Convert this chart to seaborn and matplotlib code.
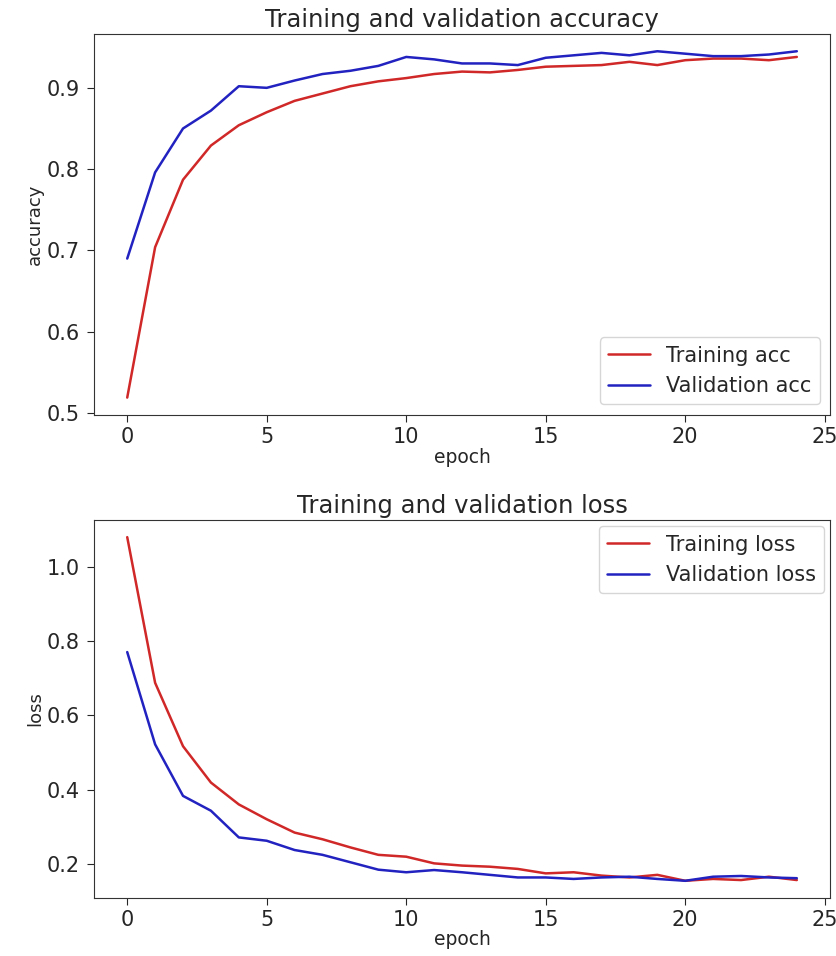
import numpy as np
import pandas as pd
import seaborn as sns
import matplotlib.pyplot as plt

# ----------------------------
# Data
# ----------------------------
epochs = list(range(25))

train_acc = [0.519, 0.704, 0.787, 0.829, 0.854, 0.870, 0.884, 0.893, 0.902, 0.908,
             0.912, 0.917, 0.920, 0.919, 0.922, 0.926, 0.927, 0.928, 0.932, 0.928,
             0.934, 0.936, 0.936, 0.934, 0.938]
val_acc = [0.690, 0.796, 0.850, 0.872, 0.902, 0.900, 0.909, 0.917, 0.921, 0.927,
           0.938, 0.935, 0.930, 0.930, 0.928, 0.937, 0.940, 0.943, 0.940, 0.945,
           0.942, 0.939, 0.939, 0.941, 0.945]

train_loss = [1.081, 0.688, 0.517, 0.419, 0.360, 0.320, 0.284, 0.266, 0.244, 0.224,
              0.219, 0.201, 0.195, 0.192, 0.186, 0.174, 0.177, 0.168, 0.163, 0.170,
              0.154, 0.159, 0.156, 0.165, 0.156]
val_loss = [0.771, 0.522, 0.383, 0.343, 0.271, 0.262, 0.237, 0.224, 0.204, 0.184,
            0.177, 0.183, 0.177, 0.170, 0.163, 0.163, 0.159, 0.163, 0.165, 0.159,
            0.154, 0.165, 0.167, 0.163, 0.161]

RED = "#d02828"
BLUE = "#2222c0"

sns.set_style("ticks", {"axes.edgecolor": "0.2"})
plt.rcParams["font.family"] = ["DejaVu Sans"]
plt.rcParams["xtick.major.size"] = 5
plt.rcParams["ytick.major.size"] = 5
plt.rcParams["ytick.major.pad"] = 5

fig = plt.figure(figsize=(8.37, 9.56), dpi=100)

# Task 1: accuracy
ax1 = fig.add_axes([0.112, 0.566, 0.880, 0.3985])
sns.lineplot(x=epochs, y=train_acc, color=RED, lw=1.8, label="Training acc", ax=ax1)
sns.lineplot(x=epochs, y=val_acc, color=BLUE, lw=1.8, label="Validation acc", ax=ax1)
ax1.set_title("Training and validation accuracy", fontsize=17.5, pad=5)
ax1.set_xlabel("epoch", fontsize=13.5, labelpad=1)
ax1.set_ylabel("accuracy", fontsize=13, labelpad=2)
ax1.set_xticks([0, 5, 10, 15, 20, 25])
ax1.tick_params(labelsize=15)
ax1.legend(loc="lower right", fontsize=15)

# Task 2: loss
ax2 = fig.add_axes([0.112, 0.0607, 0.880, 0.3954])
sns.lineplot(x=epochs, y=train_loss, color=RED, lw=1.8, label="Training loss", ax=ax2)
sns.lineplot(x=epochs, y=val_loss, color=BLUE, lw=1.8, label="Validation loss", ax=ax2)
ax2.set_title("Training and validation loss", fontsize=17.5, pad=5)
ax2.set_xlabel("epoch", fontsize=13.5, labelpad=0)
ax2.set_ylabel("loss", fontsize=13, labelpad=2)
ax2.set_xticks([0, 5, 10, 15, 20, 25])
ax2.tick_params(labelsize=15)
ax2.legend(loc="upper right", fontsize=15, borderaxespad=0.3)

fig.savefig("out.png", dpi=100)
